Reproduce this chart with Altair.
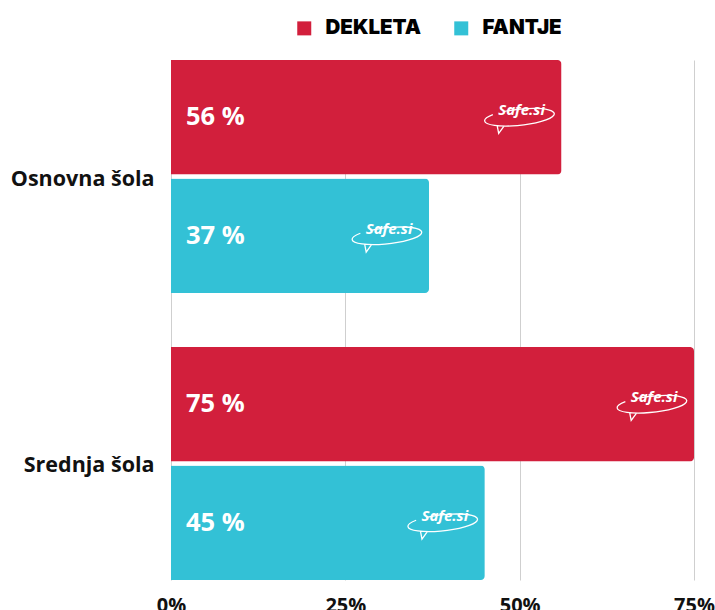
import altair as alt
import pandas as pd

categories = ["Osnovna šola", "Osnovna šola", "Srednja šola", "Srednja šola"]
genders = ["DEKLETA", "FANTJE", "DEKLETA", "FANTJE"]
values = [56, 37, 75, 45]
labels = ["56 %", "37 %", "75 %", "45 %"]
logo = ["Safe.si"] * 4
tick_values = [0, 25, 50, 75]
gender_order = ["DEKLETA", "FANTJE"]
colors = ["#D21F3C", "#33C1D6"]

df = pd.DataFrame({"cat": categories, "spol": genders, "val": values,
                   "lab": labels, "logo": logo})

y = alt.Y("cat:N", title=None, sort=["Osnovna šola", "Srednja šola"],
          scale=alt.Scale(paddingInner=0.188, paddingOuter=0.0),
          axis=alt.Axis(labelFont="Open Sans", labelFontSize=21.5, labelFontWeight="bold",
                        labelColor="#111111", ticks=False, domain=False, labelPadding=17,
                        labelOffset=3))
yoff = alt.YOffset("spol:N", sort=gender_order, scale=alt.Scale(paddingInner=0.035, paddingOuter=0))
x = alt.X("val:Q", title=None, scale=alt.Scale(domain=[0, 75], nice=False),
          axis=alt.Axis(values=tick_values, labelExpr="datum.value + '%'",
                        labelFont="Open Sans", labelFontSize=20, labelFontWeight="bold",
                        labelColor="#111111", labelFlush=False, ticks=False, domain=False,
                        labelPadding=15, grid=True, gridColor="#CFCFCF", gridWidth=1))
color = alt.Color("spol:N", sort=gender_order,
                  scale=alt.Scale(domain=gender_order, range=colors),
                  legend=alt.Legend(title=None, orient="none", direction="horizontal",
                                    legendX=123, legendY=-42, symbolType="square",
                                    symbolSize=196, symbolStrokeWidth=0, symbolOpacity=1,
                                    labelFont="Inter", labelFontSize=20.5, labelFontWeight=900,
                                    labelColor="#000000", labelOffset=11, columnPadding=29))

base = alt.Chart(df)
bars = base.mark_bar(cornerRadiusEnd=4).encode(x=x, y=y, yOffset=yoff, color=color)
txt = base.mark_text(align="left", baseline="middle", dx=15, font="Open Sans",
                     fontSize=25.5, fontWeight="bold", color="white").encode(
    x=alt.datum(0), y=y, yOffset=yoff, text="lab:N")
logo_txt = base.mark_text(align="center", baseline="middle", dx=-40, dy=-7, font="Open Sans",
                          fontSize=15, fontWeight="bold", fontStyle="italic", color="white").encode(
    x="val:Q", y=y, yOffset=yoff, text="logo:N")
ellipse = ("M -0.75 -0.152 A 1 0.23 0 1 0 -0.45 -0.205 "
           "M -0.66 0.17 L -0.64 0.4 L -0.46 0.2")
logo_shape = base.mark_point(shape=ellipse, size=4900, filled=False, stroke="white",
                             strokeWidth=1.3, opacity=1, angle=354,
                             xOffset=-42, yOffset=-3).encode(
    x="val:Q", y=y, yOffset=yoff)

chart = alt.layer(bars, txt, logo_txt, logo_shape).properties(
    width=523, height=520,
    padding={"left": 171, "top": 60, "right": 21, "bottom": 30},
    autosize=alt.AutoSizeParams(type="none"),
    background="white",
).configure_view(stroke=None)

chart.save("out.html", embed_options={"renderer": "svg", "actions": False})
